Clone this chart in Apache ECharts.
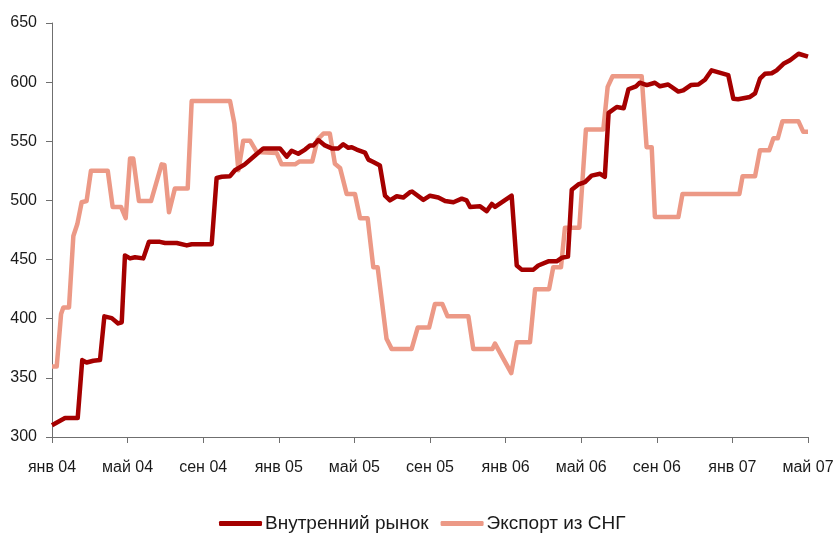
<!DOCTYPE html>
<html>
<head>
<meta charset="utf-8">
<script src="https://cdn.jsdelivr.net/npm/echarts@6/dist/echarts.min.js"></script>
<style>
  html, body { margin: 0; padding: 0; background: #fff; }
  #chart { width: 833px; height: 535px; }
</style>
</head>
<body>
<div id="chart"></div>
<script>
// Time positions are months counted from January 2004 (0 = янв 04, 40 = май 07).
const seriesNames = ['Внутренний рынок', 'Экспорт из СНГ'];
const monthNames = ['янв', 'май', 'сен'];

// Внутренний рынок
const domesticMonths = [
  0.0, 0.69, 1.36, 1.6, 1.83, 2.19, 2.54, 2.77, 3.16, 3.5, 3.69, 3.86, 4.13, 4.39, 4.83,
  5.13, 5.71, 5.98, 6.6, 7.13, 7.39, 8.45, 8.71, 8.98, 9.42, 9.68, 10.2, 10.74, 11.18, 12.06,
  12.42, 12.68, 13.03, 13.39, 13.65, 13.83, 14.09, 14.44, 14.8, 15.15, 15.41, 15.68, 15.86, 16.12, 16.56,
  16.74, 17.0, 17.35, 17.62, 17.88, 18.24, 18.59, 18.94, 19.05, 19.65, 20.0, 20.44, 20.8, 21.24, 21.68,
  21.94, 22.12, 22.65, 23.0, 23.27, 23.44, 24.32, 24.59, 24.85, 25.47, 25.73, 26.26, 26.7, 26.97, 27.3,
  27.5, 27.85, 28.2, 28.55, 29.0, 29.25, 29.45, 29.88, 30.25, 30.5, 30.9, 31.1, 31.47, 31.9, 32.17,
  32.6, 33.14, 33.4, 33.8, 34.2, 34.55, 34.9, 35.78, 36.05, 36.3, 36.93, 37.2, 37.46, 37.72, 38.08,
  38.34, 38.7, 39.05, 39.5, 40.0
];
const domesticValues = [
  310, 316, 316, 365, 363, 364.5, 365, 402, 400.5, 396, 397, 453.5, 451, 452, 451,
  465, 465, 464, 464, 462, 463, 463, 519, 520, 520.5, 525.5, 530.5, 538, 544, 544,
  537, 542, 539.5, 543, 546.5, 546.5, 551, 546.5, 544, 544, 547.5, 544.5, 545, 543, 540.5,
  534.5, 532.5, 529.5, 504, 500, 503.5, 502.5, 507, 507.5, 500.5, 504, 502.5, 499.5, 498.5, 501.5,
  500, 494.5, 495, 491, 497, 494.5, 504, 445, 441.5, 441.5, 445, 448.5, 448.5, 451.5, 452.5,
  509, 513.5, 515.5, 521, 522.5, 520, 574, 579, 578, 594, 596.5, 599.5, 597.5, 599.5, 596.5,
  598, 592, 593, 597.5, 598, 602, 610, 606, 586, 585.5, 587.5, 590.5, 603, 607, 607.5,
  610, 615.5, 618.5, 624, 621.5
];

// Экспорт из СНГ
const exportMonths = [
  0.0, 0.25, 0.48, 0.6, 0.9, 1.13, 1.34, 1.57, 1.83, 2.06, 2.95, 3.21, 3.65, 3.9, 4.13,
  4.3, 4.6, 5.24, 5.8, 5.95, 6.19, 6.5, 7.18, 7.39, 9.42, 9.65, 9.86, 10.12, 10.48, 10.83,
  11.89, 12.15, 12.86, 13.1, 13.77, 14.05, 14.36, 14.7, 14.97, 15.24, 15.59, 16.03, 16.3, 16.7, 17.0,
  17.23, 17.7, 17.97, 19.03, 19.35, 19.95, 20.26, 20.65, 20.93, 22.03, 22.29, 23.3, 23.44, 24.3, 24.59,
  25.29, 25.56, 26.3, 26.52, 26.93, 27.14, 27.9, 28.25, 29.17, 29.4, 29.66, 31.2, 31.46, 31.73, 31.9,
  33.14, 33.36, 36.37, 36.54, 37.2, 37.46, 37.95, 38.17, 38.4, 38.65, 39.49, 39.75, 40.0
];
const exportValues = [
  359.5, 359.5, 404, 409.5, 409.5, 470, 480, 498.5, 499.5, 525, 525, 494.5, 494.5, 485, 535.5,
  535.5, 499.5, 499.5, 530.5, 530, 490, 510, 510, 584, 584, 565, 525.5, 550.5, 550.5, 541,
  540, 530.5, 530.5, 533, 533, 551.5, 556.5, 556.5, 531, 527.5, 505.5, 505.5, 485, 485, 443.5,
  443.5, 383, 374.5, 374.5, 392.5, 392.5, 412.5, 412.5, 402, 402, 374.5, 374.5, 379, 354, 380,
  380, 425, 425, 443.5, 443.5, 477, 477, 560, 560, 596, 605, 605, 545, 545, 486,
  486, 505.5, 505.5, 520.5, 520.5, 542.5, 542.5, 552.5, 552.5, 567, 567, 558, 558
];

const zip = (xs, ys) => xs.map((x, i) => [x, ys[i]]);

const FONT = '"Liberation Sans", Arial, sans-serif';
const DARK = '#A50000';
const LIGHT = '#EC9986';
const AXIS = '#6f6f6f';

const chart = echarts.init(document.getElementById('chart'), null, { renderer: 'canvas' });

chart.setOption({
  animation: false,
  backgroundColor: '#ffffff',
  grid: {
    left: 52, right: 25, top: 23, bottom: 98,
    containLabel: false,
    outerBoundsMode: 'none'
  },
  xAxis: {
    type: 'value',
    min: 0,
    max: 40,
    interval: 4,
    axisLine: { lineStyle: { color: AXIS, width: 1 } },
    axisTick: { inside: false, length: 6, lineStyle: { color: AXIS } },
    splitLine: { show: false },
    axisLabel: {
      margin: 23,
      color: '#1a1a1a',
      fontFamily: FONT,
      fontSize: 16,
      showMinLabel: true,
      showMaxLabel: true,
      formatter: function (v) {
        const m = Math.round(v);
        const year = 4 + Math.floor(m / 12);
        return monthNames[(m % 12) / 4] + ' 0' + year;
      }
    }
  },
  yAxis: {
    type: 'value',
    min: 300,
    max: 650,
    interval: 50,
    axisLine: { show: true, lineStyle: { color: AXIS, width: 1 } },
    axisTick: { show: true, inside: false, length: 6, lineStyle: { color: AXIS } },
    splitLine: { show: false },
    axisLabel: {
      margin: 15,
      color: '#1a1a1a',
      fontFamily: FONT,
      fontSize: 16
    }
  },
  legend: {
    top: 509,
    left: 214,
    itemWidth: 43,
    itemHeight: 5,
    itemGap: 12,
    icon: 'roundRect',
    textStyle: { fontFamily: FONT, fontSize: 19, color: '#1a1a1a', padding: [0, 0, 0, -2] },
    data: seriesNames
  },
  series: [
    {
      name: seriesNames[0],
      type: 'line',
      data: zip(domesticMonths, domesticValues),
      showSymbol: false,
      symbol: 'none',
      lineStyle: { color: DARK, width: 4.5, join: 'round' },
      itemStyle: { color: DARK },
      z: 3
    },
    {
      name: seriesNames[1],
      type: 'line',
      data: zip(exportMonths, exportValues),
      showSymbol: false,
      symbol: 'none',
      lineStyle: { color: LIGHT, width: 4.5, join: 'round' },
      itemStyle: { color: LIGHT },
      z: 2
    }
  ]
});
</script>
</body>
</html>
